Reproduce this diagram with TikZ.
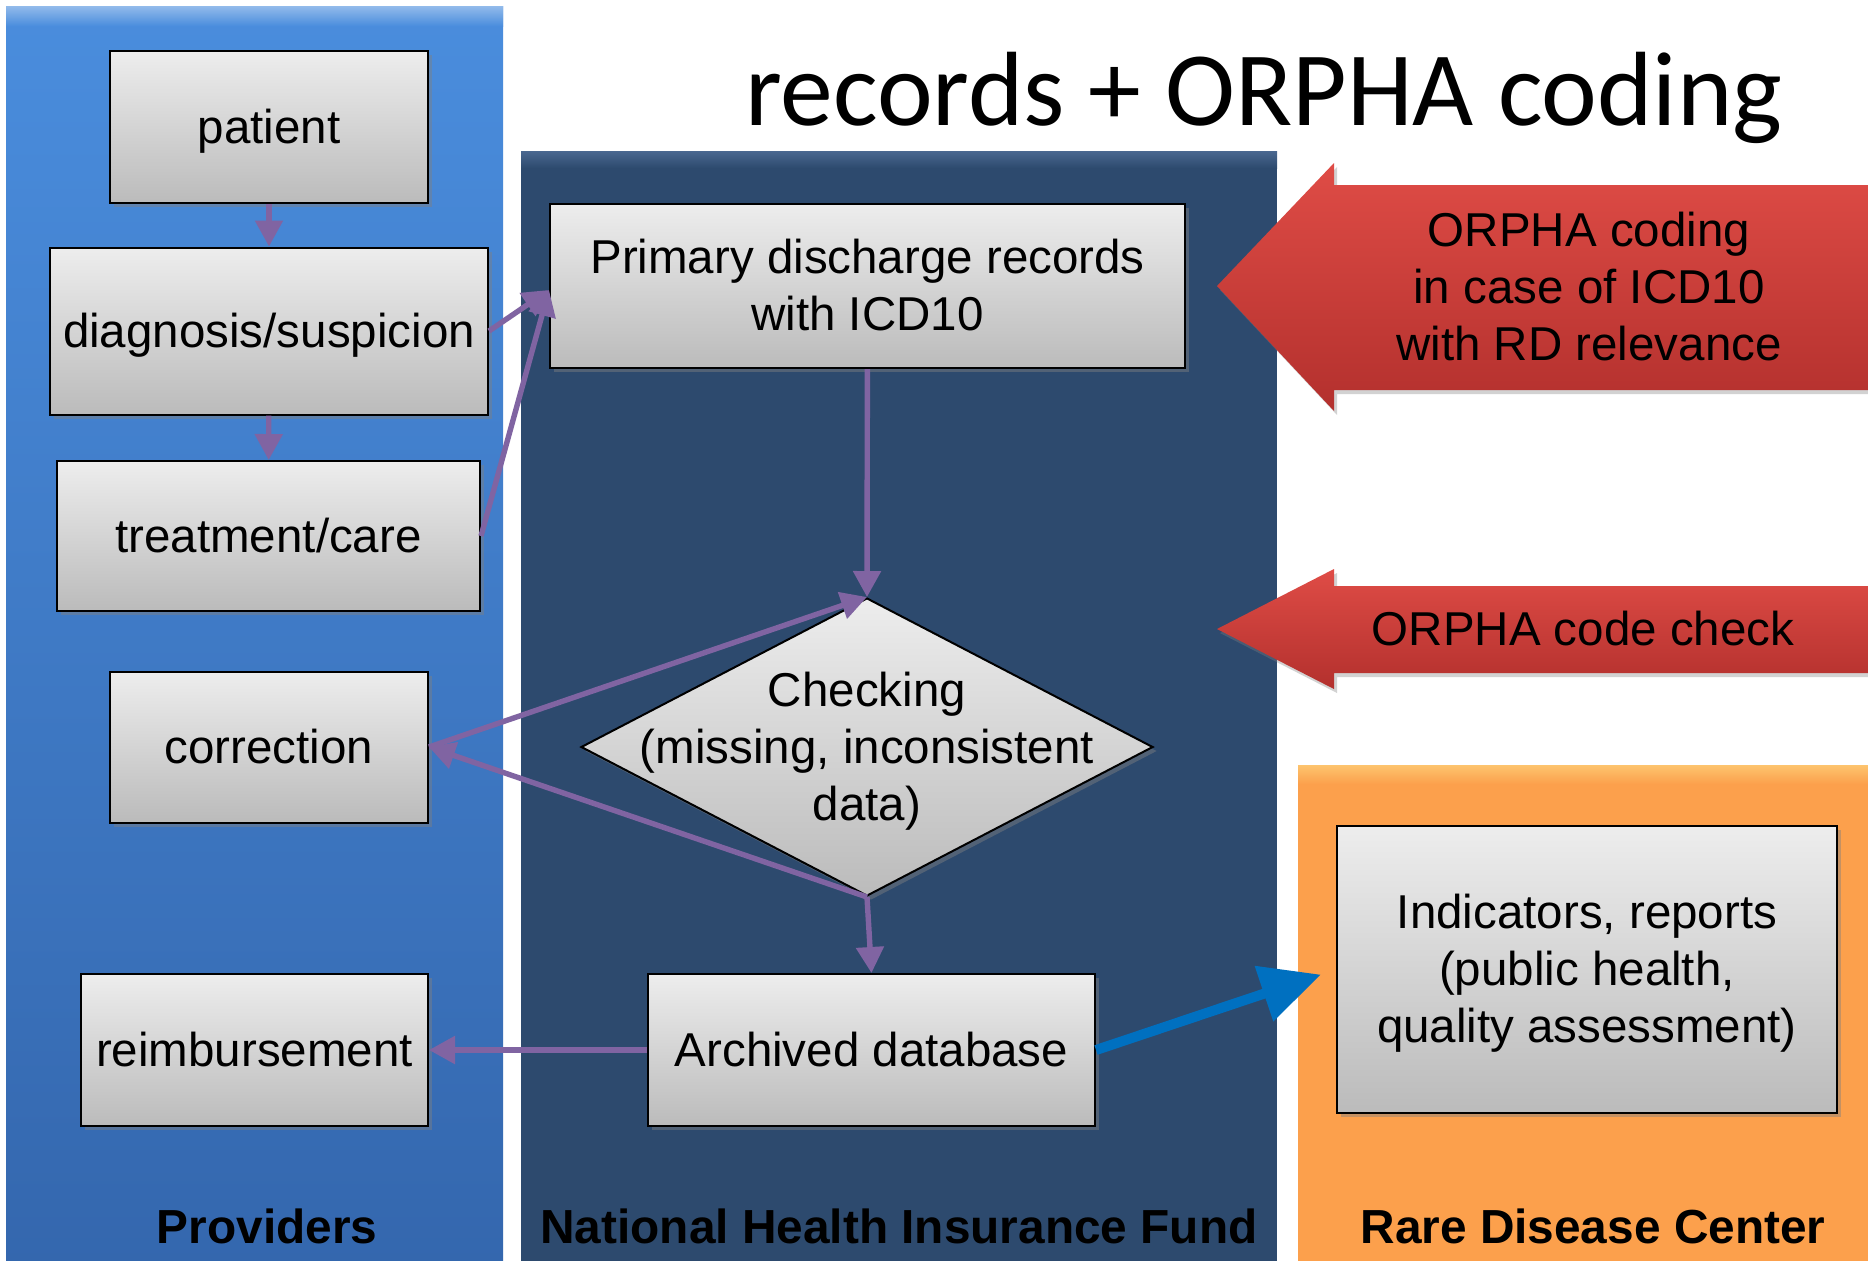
\documentclass[tikz,border=0pt]{standalone}
\usepackage{fontspec}
\setmainfont{Liberation Sans}
\newfontfamily\titlefont{Carlito}
\usetikzlibrary{arrows.meta}
\usetikzlibrary{shapes.geometric}
\usetikzlibrary{shadows}

\definecolor{provtop}{HTML}{4A8DDD}
\definecolor{provbot}{HTML}{3467AE}
\definecolor{fundblue}{HTML}{2D4A6E}
\definecolor{fundtop}{HTML}{4A6890}
\definecolor{rdorange}{HTML}{FCA04C}
\definecolor{rdtop}{HTML}{FDC46E}
\definecolor{boxtop}{HTML}{EDEDED}
\definecolor{boxbot}{HTML}{BBBBBB}
\definecolor{flowpurple}{HTML}{8064A2}
\definecolor{outblue}{HTML}{0070C0}
\definecolor{redtop}{HTML}{DF4C46}
\definecolor{redbot}{HTML}{B3302D}

\newcommand\lstrut{\rule[-0.212em]{0pt}{1.117em}}

\begin{document}
\begin{tikzpicture}[x=0.5pt,y=-0.5pt,
  txt/.style={font=\fontsize{23.75}{28.5}\selectfont,align=center,inner sep=0pt,
    execute at begin node=\lstrut,execute at end node=\lstrut},
  box/.style={txt,draw=black,line width=1pt,top color=boxtop,bottom color=boxbot,
    drop shadow={shadow xshift=2pt,shadow yshift=-2pt,opacity=0.45}},
  flow/.style={draw=flowpurple,line width=2.7pt,-{Triangle[length=13pt,width=13.5pt]}},
  colname/.style={font=\fontsize{23.9}{28.5}\selectfont\bfseries,anchor=base},
  redarrow/.style={top color=redtop,bottom color=redbot,
    drop shadow={shadow xshift=1.5pt,shadow yshift=-2pt,opacity=0.35}}]
  \useasboundingbox (0,0) rectangle (1868,1260);
  \fill[white] (0,0) rectangle (1868,1260);

  \fill[top color=provtop,bottom color=provbot] (6,6) rectangle (503,1266);
  \fill[top color=provtop!60!white,bottom color=provtop] (6,6) rectangle (503,26);
  \fill[fundblue] (521,151) rectangle (1277,1266);
  \fill[top color=fundtop,bottom color=fundblue] (521,151) rectangle (1277,168);
  \fill[rdorange] (1298,765) rectangle (1872,1266);
  \fill[top color=rdtop,bottom color=rdorange] (1298,765) rectangle (1872,784);

  \node[font=\titlefont\fontsize{52.8}{60}\selectfont,anchor=base west,inner sep=0pt] (title) at (745,125) {records + ORPHA coding};

  \node[box,minimum width=159pt,minimum height=76pt] (pat) at (269,127) {patient};
  \node[box,minimum width=219pt,minimum height=83.5pt] (diag) at (269,331) {diagnosis/suspicion};
  \node[box,minimum width=211.5pt,minimum height=75pt] (treat) at (268.5,536) {treatment/care};
  \node[box,minimum width=159pt,minimum height=75.5pt] (corr) at (269,747) {correction};
  \node[box,minimum width=173.5pt,minimum height=76pt] (reimb) at (254.5,1050) {reimbursement};

  \node[box,minimum width=317.5pt,minimum height=82pt] (prim) at (867.5,286) {\lstrut Primary discharge records\\with ICD10};
  \node[box,diamond,minimum width=286pt,minimum height=149pt,execute at begin node={},execute at end node={}] (chk) at (867,747) {};
  \node[txt] (chktxt) at (chk) {\lstrut Checking\\(missing, inconsistent\\data)};
  \node[box,minimum width=223.5pt,minimum height=76pt] (arch) at (871.5,1050) {Archived database};

  \node[box,minimum width=250pt,minimum height=143.5pt] (ind) at (1587,969.5) {\lstrut Indicators, reports\\(public health,\\quality assessment)};

  \path[redarrow] (1217,286) -- (1334,163) -- (1334,185) -- (1872,185) -- (1872,390) -- (1334,390) -- (1334,411) -- cycle;
  \node[txt] (orcode) at (1589,287) {\lstrut ORPHA coding\\in case of ICD10\\with RD relevance};
  \path[redarrow] (1217,629) -- (1334,569) -- (1334,586) -- (1872,586) -- (1872,673) -- (1334,673) -- (1334,689) -- cycle;
  \node[txt] (orcheck) at (1583,629) {ORPHA code check};

  \coordinate (primin) at ([yshift=-2pt]prim.west);
  \draw[flow] (pat) -- (diag);
  \draw[flow] (diag) -- (treat);
  \draw[flow] (diag.east) -- (primin);
  \draw[flow] (treat.east) -- (primin);
  \draw[flow] (prim) -- (chk.north);
  \draw[flow] (corr.east) -- (chk.north);
  \draw[flow] (chk.south) -- (corr.east);
  \draw[flow] (chk.south) -- (arch.north);
  \draw[flow] (arch) -- (reimb);
  \draw[draw=outblue,line width=5pt,-{Triangle[length=30pt,width=28pt]},shorten >=8pt] (arch.east) -- (ind.west);

  \node[colname] (prov) at (267,1243) {Providers};
  \node[colname] (fund) at (899,1243) {National Health Insurance Fund};
  \node[colname] (rdc) at (1593,1243) {Rare Disease Center};
\end{tikzpicture}
\end{document}
